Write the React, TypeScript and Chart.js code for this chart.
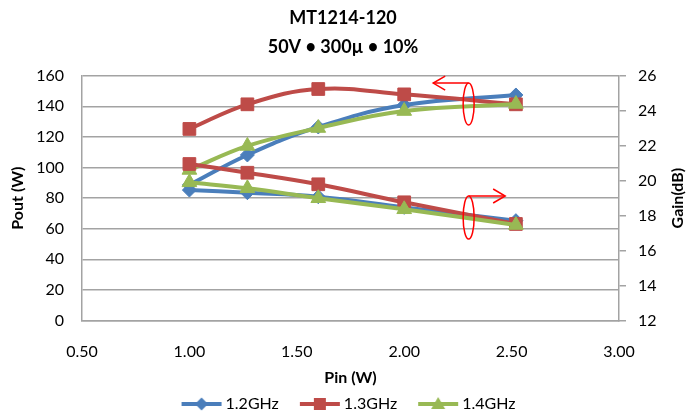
import React, { useEffect, useRef } from "react";
import { Chart, registerables } from "chart.js";

Chart.register(...registerables);

// ---- data ----
const pinValues = [1.0, 1.27, 1.6, 2.0, 2.52];
const pout12 = [88.6, 108.2, 126.5, 140.8, 147.4];
const pout13 = [125.2, 141.3, 151.3, 147.8, 141.3];
const pout14 = [98.4, 114.1, 125.8, 136.9, 141.5];
const gain12 = [19.46, 19.31, 19.08, 18.47, 17.71];
const gain13 = [20.95, 20.45, 19.79, 18.76, 17.52];
const gain14 = [19.9, 19.56, 18.99, 18.36, 17.46];
const seriesLabels = ["1.2GHz", "1.3GHz", "1.4GHz"];
const titleLines = ["MT1214-120", "50V \u2022 300\u00b5 \u2022 10%"];
const xTitle = "Pin (W)";
const yTitle = "Pout (W)";
const y1Title = "Gain(dB)";

// annotation anchors (data units)
const poutMarker = { x: 2.3, y: 141.5, half: 13.7, tip: 2.135 };
const gainMarker = { x: 2.3, y: 17.89, half: 1.23, tip: 2.47 };

const colors = ["#4A7EBB", "#BE4B48", "#98B954"];
const styles = ["rectRot", "rect", "triangle"];
const radii = [7, 9, 8.5];
const FONT = "Lato";
const GRID = "#a3a3a3";

function makeLegendIcon(color: string, style: string): HTMLCanvasElement {
  const c = document.createElement("canvas");
  c.width = 42;
  c.height = 16;
  const ctx = c.getContext("2d")!;
  ctx.strokeStyle = color;
  ctx.lineWidth = 4;
  ctx.beginPath();
  ctx.moveTo(1, 8);
  ctx.lineTo(41, 8);
  ctx.stroke();
  ctx.fillStyle = color;
  ctx.beginPath();
  const cx = 21, cy = 8;
  if (style === "rectRot") {
    ctx.moveTo(cx, cy - 6.5);
    ctx.lineTo(cx + 6.5, cy);
    ctx.lineTo(cx, cy + 6.5);
    ctx.lineTo(cx - 6.5, cy);
  } else if (style === "rect") {
    ctx.rect(cx - 6, cy - 6, 12, 12);
  } else {
    ctx.moveTo(cx, cy - 7);
    ctx.lineTo(cx + 7, cy + 5);
    ctx.lineTo(cx - 7, cy + 5);
  }
  ctx.closePath();
  ctx.fill();
  return c;
}

const annotationPlugin = {
  id: "annot",
  afterDatasetsDraw(chart: any) {
    const { ctx, scales } = chart;
    const xs = scales.x;
    const drawMark = (scale: any, m: any, dir: number) => {
      const cx = xs.getPixelForValue(m.x);
      const cy = scale.getPixelForValue(m.y);
      const ry = Math.abs(scale.getPixelForValue(m.y + m.half) - cy);
      const top = cy - ry;
      const tipX = xs.getPixelForValue(m.tip);
      ctx.beginPath();
      ctx.ellipse(cx, cy, 5.5, ry, 0, 0, Math.PI * 2);
      ctx.stroke();
      ctx.beginPath();
      ctx.moveTo(cx, top);
      ctx.lineTo(tipX, top);
      ctx.stroke();
      ctx.beginPath();
      ctx.moveTo(tipX - dir * 12, top - 7);
      ctx.lineTo(tipX, top);
      ctx.lineTo(tipX - dir * 12, top + 7);
      ctx.stroke();
    };
    ctx.save();
    ctx.strokeStyle = "#FF0000";
    ctx.lineWidth = 1.5;
    drawMark(scales.y, poutMarker, -1);
    drawMark(scales.y1, gainMarker, 1);
    ctx.restore();
  },
};

const rightTitlePlugin = {
  id: "rightTitle",
  afterDraw(chart: any) {
    const { ctx, chartArea } = chart;
    ctx.save();
    ctx.translate(chart.width - 8, (chartArea.top + chartArea.bottom) / 2);
    ctx.rotate(-Math.PI / 2);
    ctx.font = `bold 16px ${FONT}`;
    ctx.fillStyle = "#000";
    ctx.textAlign = "center";
    ctx.textBaseline = "middle";
    ctx.fillText(y1Title, 0, 0);
    ctx.restore();
  },
};

function toPoints(vals: number[]) {
  return vals.map((v, i) => ({ x: pinValues[i], y: v }));
}

export default function App() {
  const ref = useRef<HTMLCanvasElement>(null);
  useEffect(() => {
    if (!ref.current) return;
    const pouts = [pout12, pout13, pout14];
    const gains = [gain12, gain13, gain14];
    const mk = (vals: number[], i: number, axis: string, order: number) => ({
      label: seriesLabels[i],
      data: toPoints(vals),
      yAxisID: axis,
      borderColor: colors[i],
      backgroundColor: colors[i],
      pointBackgroundColor: colors[i],
      pointBorderColor: colors[i],
      pointBorderWidth: 1,
      pointStyle: styles[i],
      pointRadius: radii[i],
      borderWidth: 4,
      tension: 0.4,
      order,
    });
    const datasets = [
      mk(pouts[0], 0, "y", 6),
      mk(pouts[1], 1, "y", 5),
      mk(pouts[2], 2, "y", 4),
      mk(gains[0], 0, "y1", 3),
      mk(gains[1], 1, "y1", 2),
      mk(gains[2], 2, "y1", 1),
    ];
    const icons = [0, 1, 2].map((i) => makeLegendIcon(colors[i], styles[i]));
    const chart = new Chart(ref.current, {
      type: "line",
      data: { datasets },
      plugins: [annotationPlugin, rightTitlePlugin],
      options: {
        animation: false,
        responsive: false,
        layout: { padding: 0 },
        plugins: {
          title: {
            display: true,
            text: titleLines,
            color: "#000",
            font: { family: FONT, size: 18, weight: "bold", lineHeight: 29 / 18 },
            padding: { top: 3.5, bottom: 14.2 },
          },
          legend: {
            position: "bottom",
            fullSize: false,
            maxHeight: 40,
            labels: {
              usePointStyle: true,
              pointStyleWidth: 32,
              boxHeight: 14,
              padding: 25,
              color: "#000",
              font: { family: FONT, size: 16 },
              generateLabels: () =>
                [0, 1, 2].map((i) => ({
                  text: seriesLabels[i],
                  pointStyle: icons[i] as any,
                  fillStyle: colors[i],
                  strokeStyle: colors[i],
                  lineWidth: 0,
                  hidden: false,
                  datasetIndex: i,
                })),
            },
          },
          tooltip: { enabled: false },
        },
        scales: {
          x: {
            type: "linear",
            min: 0.5,
            max: 3.0,
            ticks: {
              stepSize: 0.5,
              padding: 14,
              color: "#000",
              font: { family: FONT, size: 16 },
              callback: (v: any) => Number(v).toFixed(2),
            },
            grid: { display: false },
            border: { display: true, color: GRID, width: 1.5 },
            title: {
              display: true,
              text: xTitle,
              color: "#000",
              font: { family: FONT, size: 16, weight: "bold" },
              padding: { top: 0, bottom: -16.6 },
            },
            afterFit: (s: any) => {
              s.height = 50.5;
            },
          },
          y: {
            position: "left",
            min: 0,
            max: 160,
            ticks: {
              stepSize: 20,
              padding: 18,
              color: "#000",
              font: { family: FONT, size: 16 },
            },
            grid: { color: GRID, lineWidth: 1.5, drawTicks: false },
            border: { display: true, color: GRID, width: 1.5 },
            title: {
              display: true,
              text: yTitle,
              color: "#000",
              font: { family: FONT, size: 16, weight: "bold" },
              padding: { top: 8.4, bottom: 0 },
            },
            afterFit: (s: any) => {
              s.width = 82;
            },
          },
          y1: {
            position: "right",
            min: 12,
            max: 26,
            ticks: {
              stepSize: 2,
              padding: 12,
              color: "#000",
              font: { family: FONT, size: 16 },
            },
            grid: {
              drawOnChartArea: false,
              drawTicks: true,
              tickLength: 7,
              color: GRID,
              lineWidth: 1.5,
            },
            border: { display: true, color: GRID, width: 1.5 },
            afterFit: (s: any) => {
              s.width = 67;
            },
          },
        },
      } as any,
    });
    return () => chart.destroy();
  }, []);
  return (
    <div style={{ position: "absolute", left: 0, top: 0, width: 686, height: 411, background: "#fff" }}>
      <canvas ref={ref} width={686} height={411} style={{ display: "block" }} />
    </div>
  );
}
